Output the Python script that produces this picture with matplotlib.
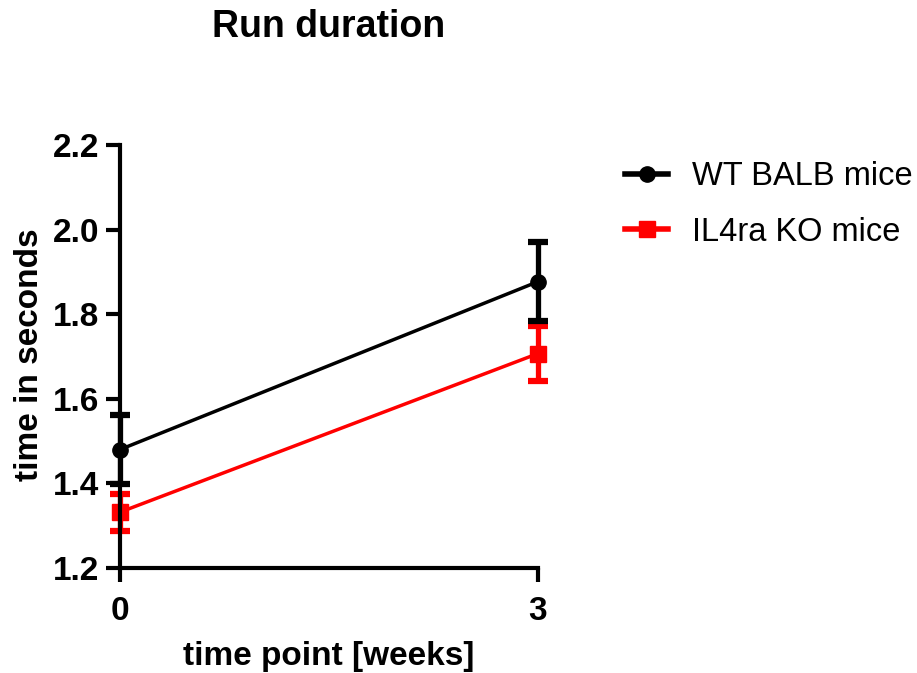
import matplotlib
matplotlib.use("Agg")
import matplotlib.pyplot as plt

plt.rcParams['font.family'] = ['Liberation Sans', 'DejaVu Sans']

weeks = [0, 3]
wt_mean = [1.48, 1.877]
wt_sem = [0.081, 0.093]
ko_mean = [1.332, 1.707]
ko_sem = [0.044, 0.064]
series_labels = ["WT BALB mice", "IL4ra KO mice"]
yticks = [1.2, 1.4, 1.6, 1.8, 2.0, 2.2]

fig = plt.figure(figsize=(9.17, 6.73), dpi=100)
ax = fig.add_axes([120/917, 1-568/673, (538-120)/917, (568-145)/673])

ax.errorbar(weeks, wt_mean, yerr=wt_sem, color='black', marker='o', markersize=11,
            linewidth=2.5, elinewidth=3.8, capsize=7, capthick=4.5, clip_on=False,
            label=series_labels[0], zorder=3)
ax.errorbar(weeks, ko_mean, yerr=ko_sem, color='#ff0000', marker='s', markersize=11,
            linewidth=2.5, elinewidth=3.8, capsize=7, capthick=4.5, clip_on=False,
            label=series_labels[1], zorder=2)

ax.set_xlim(0, 3)
ax.set_ylim(1.2, 2.2)
ax.set_xticks(weeks)
ax.set_xticklabels([str(w) for w in weeks])
ax.set_yticks(yticks)
ax.set_yticklabels([f"{t:.1f}" for t in yticks])

for s in ['top', 'right']:
    ax.spines[s].set_visible(False)
for s in ['left', 'bottom']:
    ax.spines[s].set_linewidth(3)
ax.tick_params(width=3, length=10, labelsize=24)
ax.tick_params(axis='x', pad=10)
ax.tick_params(axis='y', pad=5)
for lbl in ax.get_xticklabels() + ax.get_yticklabels():
    lbl.set_fontweight('bold')

fig.text(329/917, 1-657/673, "time point [weeks]", fontsize=24, fontweight='bold',
         ha='center', va='center')
fig.text(30/917, 1-355/673, "time in seconds", fontsize=24, fontweight='bold',
         ha='center', va='center', rotation=90)
fig.text(329/917, 1-27/673, "Run duration", fontsize=27, fontweight='bold',
         ha='center', va='center')

handles, labels = ax.get_legend_handles_labels()
handles = [h[0] for h in handles]
leg = fig.legend(handles, labels, loc='upper left', bbox_to_anchor=(596/917, 1-132/673),
                 frameon=False, fontsize=23.5, handlelength=1.3, handletextpad=0.75,
                 labelspacing=0.75)
for h in leg.legend_handles:
    h.set_linewidth(4)

fig.savefig("out.png", dpi=100)
